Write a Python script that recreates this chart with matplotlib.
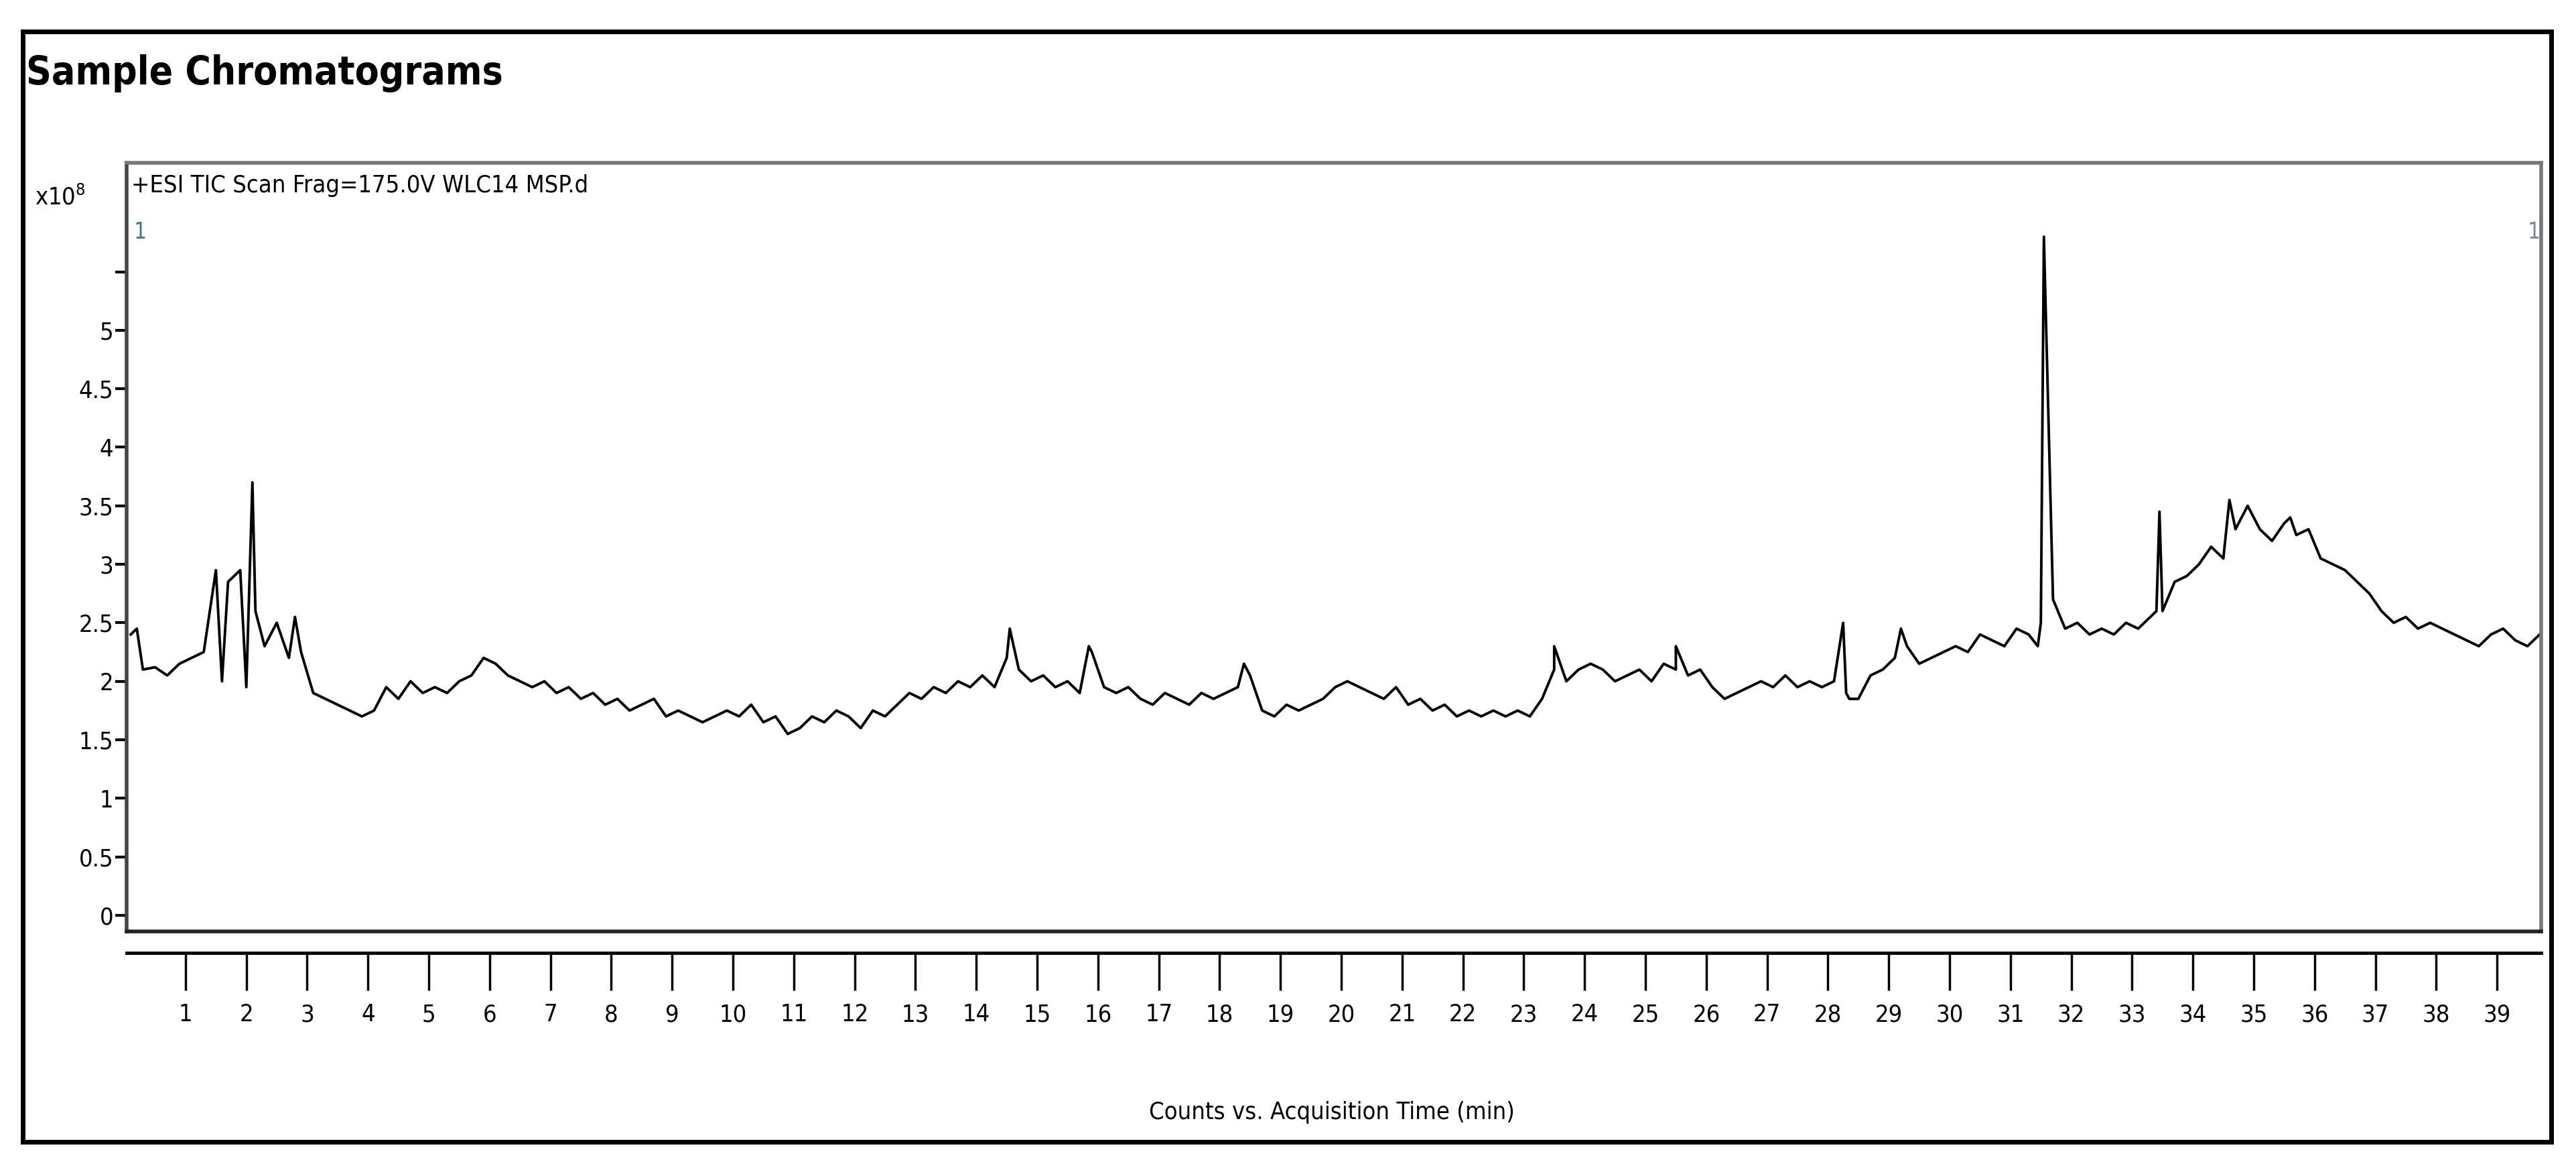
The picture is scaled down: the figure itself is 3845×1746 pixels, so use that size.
import matplotlib
matplotlib.use("Agg")
import matplotlib.pyplot as plt
import numpy as np
from matplotlib.patches import Rectangle

plt.rcParams['font.family'] = ['DejaVu Sans']
plt.rcParams['font.stretch'] = 'condensed'

grid_times = [round(0.1 + 0.2 * k, 2) for k in range(200)]
grid_vals = [
    2.40, 2.10, 2.12, 2.05, 2.15, 2.20, 2.25, 2.95, 2.85, 2.95,
    3.70, 2.30, 2.50, 2.20, 2.25, 1.90, 1.85, 1.80, 1.75, 1.70,
    1.75, 1.95, 1.85, 2.00, 1.90, 1.95, 1.90, 2.00, 2.05, 2.20,
    2.15, 2.05, 2.00, 1.95, 2.00, 1.90, 1.95, 1.85, 1.90, 1.80,
    1.85, 1.75, 1.80, 1.85, 1.70, 1.75, 1.70, 1.65, 1.70, 1.75,
    1.70, 1.80, 1.65, 1.70, 1.55, 1.60, 1.70, 1.65, 1.75, 1.70,
    1.60, 1.75, 1.70, 1.80, 1.90, 1.85, 1.95, 1.90, 2.00, 1.95,
    2.05, 1.95, 2.20, 2.10, 2.00, 2.05, 1.95, 2.00, 1.90, 2.25,
    1.95, 1.90, 1.95, 1.85, 1.80, 1.90, 1.85, 1.80, 1.90, 1.85,
    1.90, 1.95, 2.05, 1.75, 1.70, 1.80, 1.75, 1.80, 1.85, 1.95,
    2.00, 1.95, 1.90, 1.85, 1.95, 1.80, 1.85, 1.75, 1.80, 1.70,
    1.75, 1.70, 1.75, 1.70, 1.75, 1.70, 1.85, 2.10, 2.00, 2.10,
    2.15, 2.10, 2.00, 2.05, 2.10, 2.00, 2.15, 2.10, 2.05, 2.10,
    1.95, 1.85, 1.90, 1.95, 2.00, 1.95, 2.05, 1.95, 2.00, 1.95,
    2.00, 1.90, 1.85, 2.05, 2.10, 2.20, 2.30, 2.15, 2.20, 2.25,
    2.30, 2.25, 2.40, 2.35, 2.30, 2.45, 2.40, 2.50, 2.70, 2.45,
    2.50, 2.40, 2.45, 2.40, 2.50, 2.45, 2.55, 2.60, 2.85, 2.90,
    3.00, 3.15, 3.05, 3.30, 3.50, 3.30, 3.20, 3.35, 3.25, 3.30,
    3.05, 3.00, 2.95, 2.85, 2.75, 2.60, 2.50, 2.55, 2.45, 2.50,
    2.45, 2.40, 2.35, 2.30, 2.40, 2.45, 2.35, 2.30, 2.40, 2.35,
]
extra_times = [0.2, 1.6, 2.0, 2.15, 2.8, 14.55, 15.85, 18.4, 23.5, 25.5, 28.25, 28.35,
               29.2, 31.45, 31.55, 33.4, 33.45, 34.6, 35.6]
extra_vals = [2.45, 2.0, 1.95, 2.6, 2.55, 2.45, 2.3, 2.15, 2.3, 2.3, 2.5, 1.85,
              2.45, 2.3, 5.8, 2.6, 3.45, 3.55, 3.4]

t = np.array(grid_times + extra_times)
v = np.array(grid_vals + extra_vals)
order = np.argsort(t)
t, v = t[order], v[order]

fig = plt.figure(figsize=(38.45, 17.46), dpi=100)
fig.patches.append(Rectangle((0.0089, 0.0239), 0.9815, 0.9494, transform=fig.transFigure,
                             fill=False, edgecolor='black', linewidth=5))
fig.text(0.0102, 0.937, "Sample Chromatograms", fontsize=42, fontweight='bold', va='center')

ax = fig.add_axes([0.0491, 0.2037, 0.9375, 0.657])
ax.plot(t, v, color='black', linewidth=2.8)
ax.set_xlim(0.03, 39.73)
ax.set_ylim(-0.14, 6.43)
for s in ax.spines.values():
    s.set_color('#777777'); s.set_linewidth(4)
ax.spines['bottom'].set_color('#222222')
ax.spines['left'].set_color('#444444')
ax.set_xticks([])
ax.set_yticks([0, 0.5, 1, 1.5, 2, 2.5, 3, 3.5, 4, 4.5, 5, 5.5])
ax.set_yticklabels(['0', '0.5', '1', '1.5', '2', '2.5', '3', '3.5', '4', '4.5', '5', ''])
ax.tick_params(axis='y', direction='out', length=12, width=3, labelsize=26, pad=2)

sec = ax.secondary_xaxis(-0.028)
sec.set_xticks(list(range(1, 40)))
sec.tick_params(direction='out', length=40, width=2.5, labelsize=26, pad=14)
sec.spines['bottom'].set_linewidth(3.5)

ax.text(-0.038, 0.955, r"x10$^8$", transform=ax.transAxes, fontsize=26, ha='left', va='center')
ax.text(0.002, 0.985, "+ESI TIC Scan Frag=175.0V WLC14 MSP.d", transform=ax.transAxes,
        fontsize=26, ha='left', va='top')
ax.text(0.003, 0.91, "1", transform=ax.transAxes, fontsize=24, ha='left', va='center', color='#447788')
ax.text(0.9995, 0.91, "1", transform=ax.transAxes, fontsize=24, ha='right', va='center', color='#778899')

fig.text(0.517, 0.049, "Counts vs. Acquisition Time (min)", fontsize=26, ha='center', va='center')

fig.savefig("out.png", dpi=100)
